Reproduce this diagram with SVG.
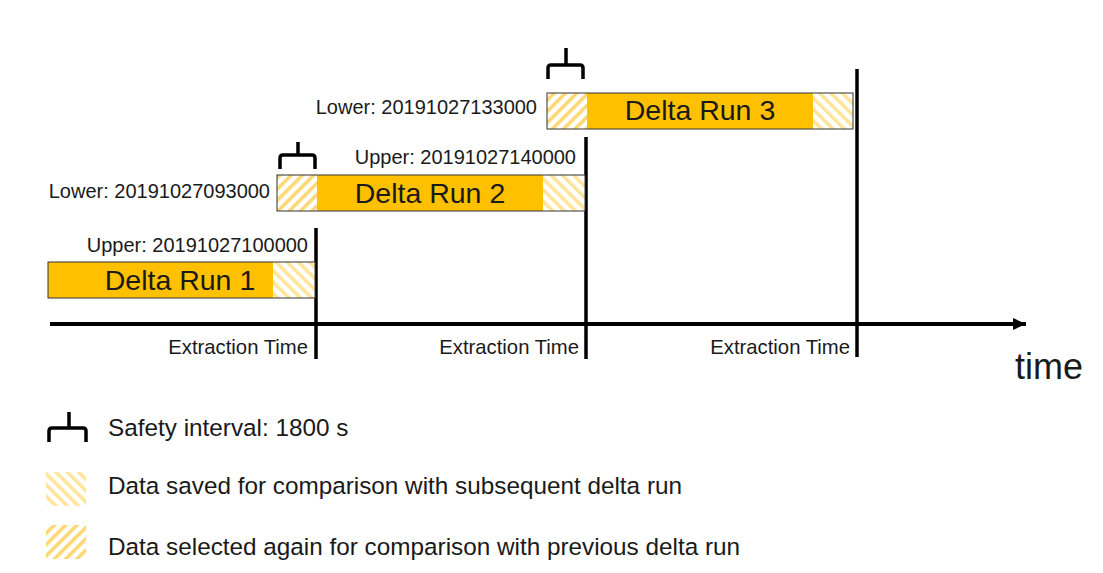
<svg xmlns="http://www.w3.org/2000/svg" width="1103" height="573" viewBox="0 0 1103 573">
<defs>
<pattern id="saved" patternUnits="userSpaceOnUse" width="8" height="8" patternTransform="rotate(-45)">
<rect width="8" height="8" fill="#ffffff"/>
<rect width="3.5" height="8" fill="#FFE49A"/>
</pattern>
<pattern id="selected" patternUnits="userSpaceOnUse" width="8" height="8" patternTransform="rotate(45)">
<rect width="8" height="8" fill="#ffffff"/>
<rect width="3.5" height="8" fill="#FFD772"/>
</pattern>
<marker id="arrow" markerUnits="userSpaceOnUse" markerWidth="14" markerHeight="14" refX="13" refY="7" orient="auto">
<path d="M0,1 L13,7 L0,13 Z" fill="#000"/>
</marker>
</defs>
<style>
text{font-family:"Liberation Sans",Arial,sans-serif;fill:#1a1a1a}
.lbl{font-size:20px}
.run{font-size:28.5px}
.ext{font-size:20.3px}
.leg{font-size:24.3px}
.bar{fill:#FFC000}
.frame{fill:none;stroke:#333;stroke-width:1}
.brk{fill:none;stroke:#000;stroke-width:3.5;stroke-linejoin:round;stroke-linecap:butt}
.vl{stroke:#000;stroke-width:3.5}
</style>
<rect width="1103" height="573" fill="#fff"/>
<g id="connectors">
<line x1="50" y1="324" x2="1026" y2="324" stroke="#000" stroke-width="4" marker-end="url(#arrow)"/>
<line class="vl" x1="316" y1="228" x2="316" y2="359"/>
<line class="vl" x1="586" y1="137" x2="586" y2="359"/>
<line class="vl" x1="857" y1="69" x2="857" y2="357"/>
</g>
<g id="run1">
<rect class="bar" x="48" y="262" width="267" height="36"/>
<rect x="273" y="262" width="42" height="36" fill="url(#saved)"/>
<rect class="frame" x="48" y="262" width="267" height="36"/>
<text class="run" x="180" y="290" text-anchor="middle">Delta Run 1</text>
<text class="lbl" x="308" y="252" text-anchor="end">Upper: 20191027100000</text>
</g>
<g id="run2">
<rect class="bar" x="277" y="175" width="308" height="36"/>
<rect x="277" y="175" width="40" height="36" fill="url(#selected)"/>
<rect x="543" y="175" width="42" height="36" fill="url(#saved)"/>
<rect class="frame" x="277" y="175" width="308" height="36"/>
<text class="run" x="430" y="203" text-anchor="middle">Delta Run 2</text>
<text class="lbl" x="270" y="198" text-anchor="end">Lower: 20191027093000</text>
<text class="lbl" x="576" y="164" text-anchor="end">Upper: 20191027140000</text>
<path class="brk" d="M280,169 V158 Q280,155 283,155 H312 Q315,155 315,158 V169 M298,155 V142"/>
</g>
<g id="run3">
<rect class="bar" x="547" y="93" width="306" height="36"/>
<rect x="547" y="93" width="40" height="36" fill="url(#selected)"/>
<rect x="813" y="93" width="40" height="36" fill="url(#saved)"/>
<rect class="frame" x="547" y="93" width="306" height="36"/>
<text class="run" x="700" y="120" text-anchor="middle">Delta Run 3</text>
<text class="lbl" x="537" y="114" text-anchor="end">Lower: 20191027133000</text>
<path class="brk" d="M548,79 V68 Q548,65 551,65 H580 Q583,65 583,68 V79 M566,65 V48"/>
</g>
<g id="axis-labels">
<text class="ext" x="308" y="354" text-anchor="end">Extraction Time</text>
<text class="ext" x="579" y="354" text-anchor="end">Extraction Time</text>
<text class="ext" x="850" y="354" text-anchor="end">Extraction Time</text>
<text x="1015" y="379" style="font-size:36px">time</text>
</g>
<g id="legend">
<path class="brk" d="M49,442 V431 Q49,428 52,428 H83 Q86,428 86,431 V442 M69,428 V412"/>
<text class="leg" x="108" y="436">Safety interval: 1800 s</text>
<rect x="46" y="472" width="40" height="34" fill="url(#saved)"/>
<text class="leg" x="108" y="494">Data saved for comparison with subsequent delta run</text>
<rect x="46" y="525" width="40" height="34" fill="url(#selected)"/>
<text class="leg" x="108" y="555">Data selected again for comparison with previous delta run</text>
</g>
</svg>
